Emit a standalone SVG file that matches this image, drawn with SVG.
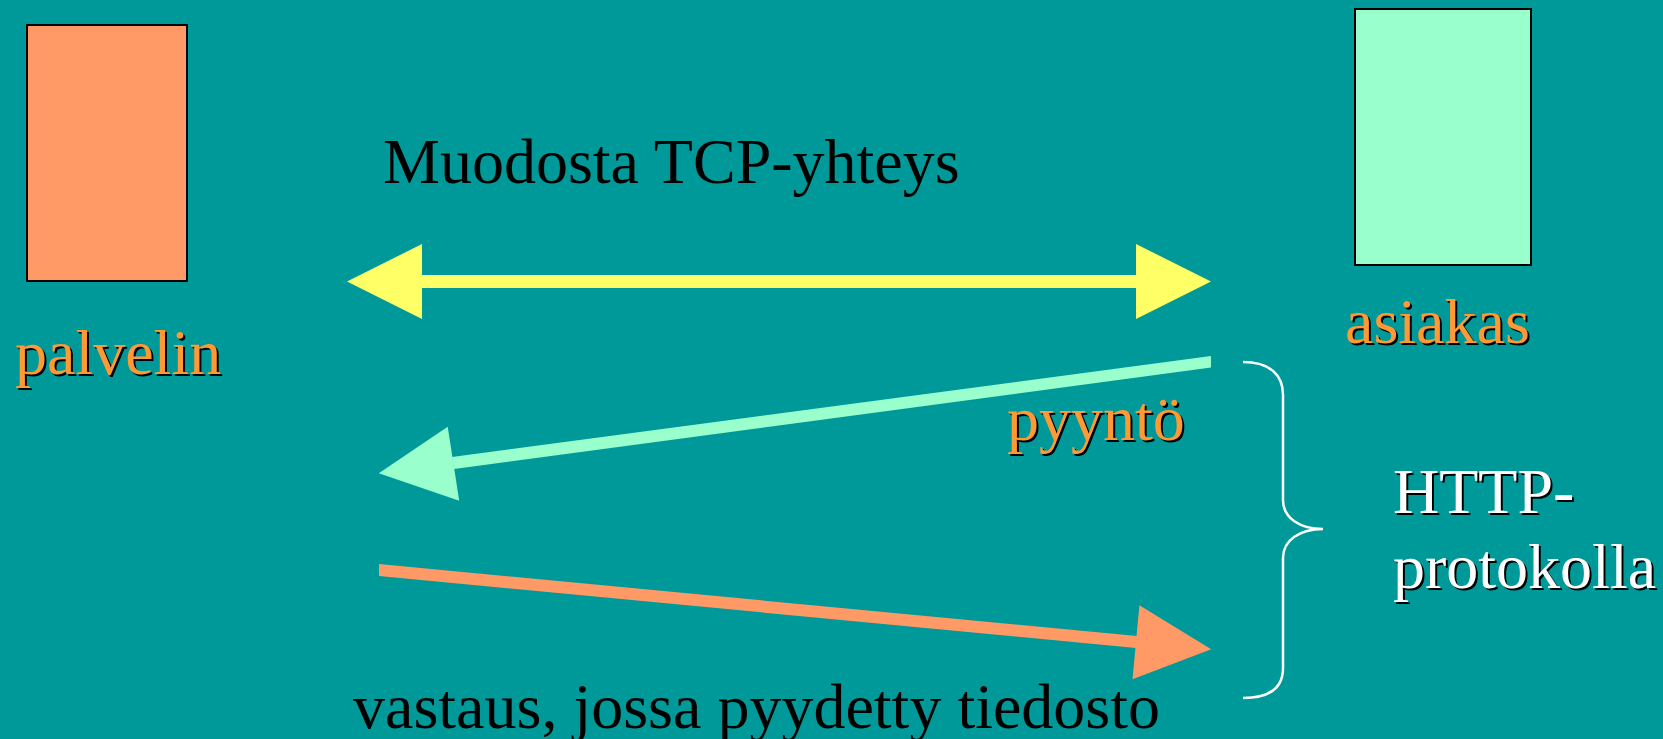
<svg xmlns="http://www.w3.org/2000/svg" width="1663" height="739" viewBox="0 0 1663 739">
<style>
text{font-family:"Liberation Serif","Times New Roman",serif;font-size:64px}
.sh{fill:#000}
.or{fill:#FF9933}
.wh{fill:#FFFFFF}
.bk{fill:#000}
.box{stroke:#000;stroke-width:2}
</style>
<rect x="0" y="0" width="1663" height="739" fill="#009999"/>
<g id="palvelin">
<rect class="box" x="27" y="25" width="160" height="256" fill="#FF9966"/>
<text class="sh" x="17" y="376">palvelin</text>
<text class="or" x="15" y="374">palvelin</text>
</g>
<g id="asiakas">
<rect class="box" x="1355" y="9" width="176" height="256" fill="#99FFCC"/>
<text class="sh" x="1347" y="345">asiakas</text>
<text class="or" x="1345" y="343">asiakas</text>
</g>
<g id="connectors">
<g id="tcp">
<rect x="421" y="275" width="716" height="13" fill="#FFFF66"/>
<polygon points="422,244 347,281.5 422,319" fill="#FFFF66"/>
<polygon points="1136,244 1211,281.5 1136,319" fill="#FFFF66"/>
</g>
<g id="request">
<polygon points="1211,356 1211,367.5 454,469 452,457" fill="#99FFCC"/>
<polygon points="447.7,426.7 378.8,473.3 459.2,500.7" fill="#99FFCC"/>
</g>
<g id="response">
<polygon points="379,564 379,576 1136,648 1137,636" fill="#FF9966"/>
<polygon points="1139.4,605.3 1211.2,649.3 1132.5,679.3" fill="#FF9966"/>
</g>
<path id="brace" d="M1243,362 C1270,362 1283,375 1283,395 L1283,500 C1283,518 1300,529 1323,529 C1300,529 1283,540 1283,558 L1283,668 C1283,688 1270,698 1243,698" fill="none" stroke="#FFFFFF" stroke-width="2.5"/>
</g>
<g id="labels">
<text class="bk" x="383" y="183">Muodosta TCP-yhteys</text>
<text class="sh" x="1009" y="442">pyyntö</text>
<text class="or" x="1007" y="440">pyyntö</text>
<text class="bk" x="353" y="728">vastaus, jossa pyydetty tiedosto</text>
<text class="sh" x="1395" y="515">HTTP-</text>
<text class="wh" x="1393" y="513">HTTP-</text>
<text class="sh" x="1395" y="590">protokolla</text>
<text class="wh" x="1393" y="588">protokolla</text>
</g>
</svg>
